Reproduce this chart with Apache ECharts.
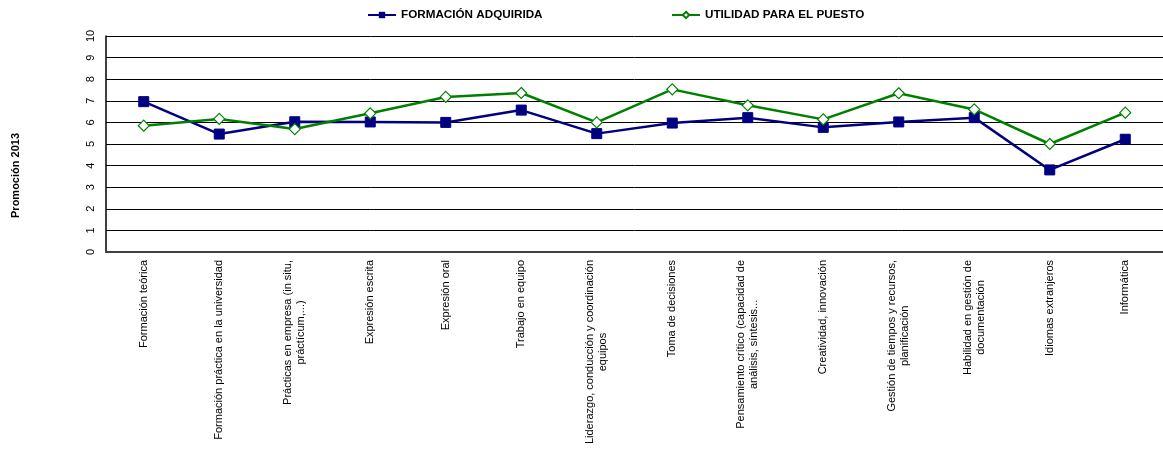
<!DOCTYPE html>
<html>
<head>
<meta charset="utf-8">
<script src="https://cdn.jsdelivr.net/npm/echarts@6/dist/echarts.min.js"></script>
<style>
html,body{margin:0;padding:0;background:#fff;}
#chart{width:1163px;height:475px;}
</style>
</head>
<body>
<div id="chart"></div>
<script>
const categories = [
  'Formación teórica',
  'Formación práctica en la universidad',
  'Prácticas en empresa (in situ,\npráctícum,...)',
  'Expresión escrita',
  'Expresión oral',
  'Trabajo en equipo',
  'Liderazgo, conducción y coordinación\nequipos',
  'Toma de decisiones',
  'Pensamiento crítico (capacidad de\nanálisis, síntesis...',
  'Creatividad, innovación',
  'Gestión de tiempos y recursos,\nplanificación',
  'Habilidad en gestión de\ndocumentación',
  'Idiomas extranjeros',
  'Informática'
];
const formacionAdquirida = [6.96, 5.46, 6.03, 6.02, 6.0, 6.57, 5.48, 5.97, 6.22, 5.77, 6.02, 6.22, 3.8, 5.22];
const utilidadPuesto = [5.85, 6.16, 5.69, 6.42, 7.18, 7.36, 6.0, 7.53, 6.79, 6.14, 7.35, 6.6, 5.0, 6.45];
const yTicks = [0, 10, 1];
const seriesNames = ['FORMACIÓN ADQUIRIDA', 'UTILIDAD PARA EL PUESTO'];
const sideTitle = 'Promoción 2013';

const FONT = '"Liberation Sans", Arial, sans-serif';
const legendText = {fontFamily: FONT, fontWeight: 'bold', fontSize: 11.7, color: '#000'};
const chart = echarts.init(document.getElementById('chart'), null, {renderer: 'canvas'});
chart.setOption({
  animation: false,
  backgroundColor: '#fff',
  textStyle: {fontFamily: FONT},
  grid: {left: 106, top: 36, width: 1063, height: 216, containLabel: false},
  legend: [
    {data: [seriesNames[0]], left: 362, top: 4, itemWidth: 28, itemHeight: 8, textStyle: legendText},
    {data: [seriesNames[1]], left: 666, top: 4, itemWidth: 28, itemHeight: 8, textStyle: legendText}
  ],
  graphic: [{
    type: 'text', left: 10, top: 133, rotation: Math.PI / 2,
    style: {text: sideTitle, font: 'bold 11px "Liberation Sans", Arial, sans-serif', fill: '#000'}
  }],
  xAxis: {
    type: 'category',
    data: categories,
    boundaryGap: true,
    axisLine: {lineStyle: {color: '#404040', width: 2}},
    axisTick: {inside: true, length: 4, lineStyle: {color: '#404040'}},
    axisLabel: {
      interval: 0, rotate: 90, margin: 8, color: '#000', fontSize: 11, fontFamily: FONT,
      formatter: function (v) { return v.split('\n').map(function (s) { return '{c|' + s + '}'; }).join('\n'); },
      rich: {c: {align: 'center', fontSize: 11, lineHeight: 13, fontFamily: FONT, color: '#000'}}
    }
  },
  yAxis: {
    type: 'value', min: yTicks[0], max: yTicks[1], interval: yTicks[2],
    axisLine: {show: true, lineStyle: {color: '#000', width: 1.5}},
    axisTick: {show: false},
    axisLabel: {rotate: 90, margin: 10, color: '#000', fontSize: 11, fontFamily: FONT},
    splitLine: {show: true, lineStyle: {color: '#000', width: 1}}
  },
  series: [
    {
      name: seriesNames[0], type: 'line', data: formacionAdquirida,
      symbol: 'rect', symbolSize: 10,
      lineStyle: {color: '#000080', width: 2.5},
      itemStyle: {color: '#000080', borderColor: '#000080'}
    },
    {
      name: seriesNames[1], type: 'line', data: utilidadPuesto,
      symbol: 'diamond', symbolSize: 11,
      lineStyle: {color: '#008000', width: 2.5},
      itemStyle: {color: '#ffffff', borderColor: '#008000', borderWidth: 1.2}
    }
  ]
});
</script>
</body>
</html>
